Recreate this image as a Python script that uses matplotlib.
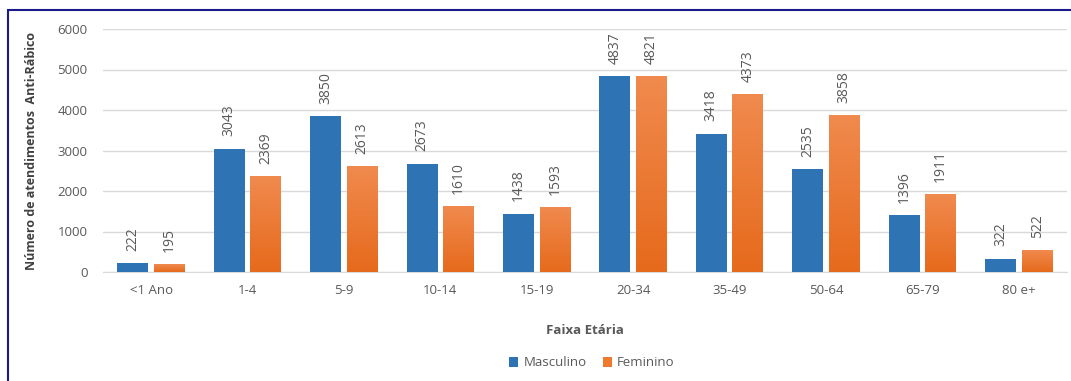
import matplotlib
matplotlib.use("Agg")
import matplotlib.pyplot as plt
import numpy as np
from matplotlib.patches import Rectangle
from matplotlib.colors import LinearSegmentedColormap

# Dados
faixas = ["<1 Ano", "1-4", "5-9", "10-14", "15-19", "20-34", "35-49", "50-64", "65-79", "80 e+"]
masculino = [222, 3043, 3850, 2673, 1438, 4837, 3418, 2535, 1396, 322]
feminino = [195, 2369, 2613, 1610, 1593, 4821, 4373, 3858, 1911, 522]

plt.rcParams["font.family"] = ["Open Sans", "DejaVu Sans"]

cor_azul = "#2E74B5"
cor_laranja = "#EE7A30"
cinza = "#595959"

fig = plt.figure(figsize=(10.71, 3.81), dpi=100)
ax = fig.add_axes([103 / 1071, 1 - 272 / 381, 964 / 1071, 243 / 381])

x = np.arange(len(faixas))
largura = 0.32
desloc = 0.19

b1 = ax.bar(x - desloc, masculino, largura, color=cor_azul, label="Masculino", zorder=3)
b2 = ax.bar(x + desloc, feminino, largura, color=cor_laranja, label="Feminino", zorder=3)

# gradiente leve nas barras laranja (claro em cima, escuro embaixo)
grad = LinearSegmentedColormap.from_list("lar", ["#E66A1C", "#F08A4E"])
for b in b2:
    h = b.get_height()
    x0 = b.get_x()
    ax.imshow(np.linspace(0, 1, 100).reshape(-1, 1), cmap=grad, origin="lower",
              extent=(x0, x0 + b.get_width(), 0, h), aspect="auto", zorder=3.5)

# Rótulos dos valores (rotacionados)
for barras in (b1, b2):
    for b in barras:
        ax.annotate(str(int(b.get_height())),
                    (b.get_x() + b.get_width() / 2, b.get_height()),
                    xytext=(0, 9), textcoords="offset points",
                    ha="center", va="bottom", rotation=90,
                    fontsize=10, color=cinza)

ax.set_xlim(-0.5, len(faixas) - 0.5)
ax.set_ylim(0, 6000)
ax.set_yticks(np.arange(0, 6001, 1000))
ax.set_xticks(x)
ax.set_xticklabels(faixas)
ax.tick_params(axis="both", length=0, labelsize=9.5, colors=cinza)
ax.tick_params(axis="x", pad=9)
ax.tick_params(axis="y", pad=11)

ax.grid(axis="y", color="#D9D9D9", linewidth=1, zorder=0)
for lado in ["top", "right", "left"]:
    ax.spines[lado].set_visible(False)
ax.spines["bottom"].set_color("#D9D9D9")

ax.set_ylabel("Número de atendimentos  Anti-Rábico", fontsize=9, fontweight="bold", color="#404040", labelpad=14)
ax.set_xlabel("Faixa Etária", fontsize=9.5, fontweight="bold", color=cinza, labelpad=19)

fig.legend(loc="center", bbox_to_anchor=(592 / 1071, 1 - 363 / 381), ncol=2, frameon=False,
           fontsize=9.5, labelcolor=cinza, handlelength=0.7, handleheight=0.7,
           handletextpad=0.4, columnspacing=1.2)

# Moldura azul
fig.patches.append(Rectangle((8 / 1071, -0.05), 1.1, 1 - 10 / 381 + 0.05,
                             transform=fig.transFigure, fill=False,
                             edgecolor="#1A1A8C", linewidth=1.5, zorder=10))

fig.savefig("out.png", dpi=100)
